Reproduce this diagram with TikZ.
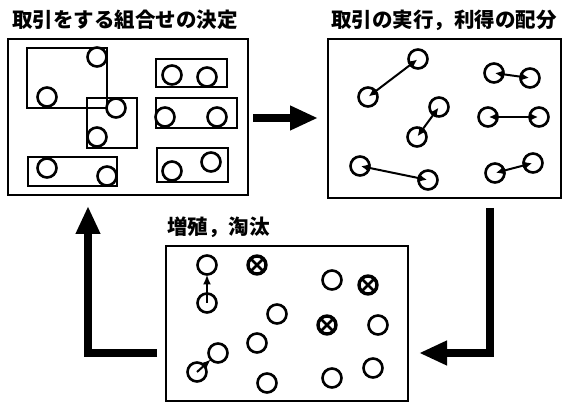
\documentclass[tikz,border=0pt]{standalone}
\usepackage{fontspec}
\newfontfamily\cjk{Noto Sans CJK JP}
\usetikzlibrary{arrows.meta}
\begin{document}
\begin{tikzpicture}[x=1pt,y=-1pt,
  frame/.style={draw, line width=2.6pt, rectangle, inner sep=0, outer sep=0, anchor=north west},
  grp/.style={draw, line width=1.8pt, rectangle, inner sep=0, outer sep=0, anchor=north west},
  agent/.style={draw, line width=2.6pt, circle, minimum size=19pt, inner sep=0, outer sep=0},
  dead/.style={draw, line width=3.4pt, circle, minimum size=18pt, inner sep=0, outer sep=0},
  trade/.style={line width=2pt, >={Latex[length=9pt,width=9pt]}, <->, shorten <=1pt, shorten >=1pt},
  birth/.style={line width=2pt, >={Latex[length=10pt,width=8pt]}, ->},
  flow/.style={line width=7.5pt, >={Triangle[length=28pt,width=23pt]}, ->},
  title/.style={font=\cjk\bfseries\fontsize{20.5}{22}\selectfont, inner sep=0}
]
\useasboundingbox (0,0) rectangle (565,403);

% titles
\node[title] (t1) at (125,20) {取引をする組合せの決定};
\node[title] (t2) at (444,20) {取引の実行，利得の配分};
\node[title, anchor=west] (t3) at (167,227) {増殖，淘汰};

% frames
\node[frame, minimum width=240pt, minimum height=156pt] (b1) at (8,39) {};
\node[frame, minimum width=233pt, minimum height=159pt] (b2) at (328,39) {};
\node[frame, minimum width=242pt, minimum height=155pt] (b3) at (166,246) {};

% box 1 groups
\node[grp, minimum width=80pt, minimum height=60pt] (gA) at (27,48) {};
\node[grp, minimum width=50pt, minimum height=50pt] (gB) at (87,98) {};
\node[grp, minimum width=89pt, minimum height=29pt] (gC) at (28,157) {};
\node[grp, minimum width=71pt, minimum height=28pt] (gR1) at (156,59) {};
\node[grp, minimum width=81pt, minimum height=30pt] (gR2) at (156,98) {};
\node[grp, minimum width=71pt, minimum height=34pt] (gR3) at (157,148) {};

\node[agent, fill=white] (a1) at (97,57) {};
\node[agent, fill=white] (a2) at (47,97) {};
\node[agent, fill=white] (a3) at (116,108) {};
\node[agent, fill=white] (a4) at (97,137) {};
\node[agent, fill=white] (a5) at (47,168) {};
\node[agent, fill=white] (a6) at (107,176) {};
\node[agent] (a7) at (172,75) {};
\node[agent] (a8) at (207,77) {};
\node[agent] (a9) at (165,117) {};
\node[agent] (a10) at (217,117) {};
\node[agent] (a11) at (172,171) {};
\node[agent] (a12) at (211,162) {};

% box 2 trading pairs
\node[agent] (p1) at (418,59) {};
\node[agent] (p2) at (368,97) {};
\node[agent] (p3) at (439,107) {};
\node[agent] (p4) at (417,137) {};
\node[agent] (p5) at (360,166) {};
\node[agent] (p6) at (428,180) {};
\node[agent] (p7) at (494,73) {};
\node[agent] (p8) at (530,78) {};
\node[agent] (p9) at (488,117) {};
\node[agent] (p10) at (539,117) {};
\node[agent] (p11) at (495,173) {};
\node[agent] (p12) at (533,163) {};
\draw[trade] (p2.center) -- (p1.center);
\draw[trade] (p4.center) -- (p3.center);
\draw[trade] (p5.center) -- (p6.center);
\draw[trade] (p7.center) -- (p8.center);
\draw[trade] (p9.center) -- (p10.center);
\draw[trade] (p11.center) -- (p12.center);

% box 3
\node[agent] (q1) at (207,265) {};
\node[agent] (q2) at (207,303) {};
\draw[birth] (q2.center) -- (q1);
\node[agent] (q3) at (218,353) {};
\node[agent] (q4) at (197,372) {};
\draw[birth] (q4.center) -- (q3);
\node[agent] (q5) at (332,280) {};
\node[agent] (q6) at (277,314) {};
\node[agent] (q7) at (378,325) {};
\node[agent] (q8) at (257,343) {};
\node[agent] (q9) at (267,383) {};
\node[agent] (q10) at (332,378) {};
\node[agent] (q11) at (373,368) {};
\node[dead] (x1) at (257,265) {};
\node[dead] (x2) at (368,285) {};
\node[dead] (x3) at (327,325) {};
\foreach \n in {x1,x2,x3}{
  \draw[line width=2.8pt] (\n.45) -- (\n.225) (\n.135) -- (\n.315);
}

% thick flow arrows
\coordinate (s1) at (253,118);
\coordinate (e1) at (318,118);
\draw[flow] (s1) -- (e1);
\coordinate (s2) at (490,208);
\coordinate (e2) at (419,353);
\draw[flow] (s2) |- (e2);
\coordinate (s3) at (157,353);
\coordinate (e3) at (88,206);
\draw[flow] (s3) -| (e3);
\end{tikzpicture}
\end{document}
